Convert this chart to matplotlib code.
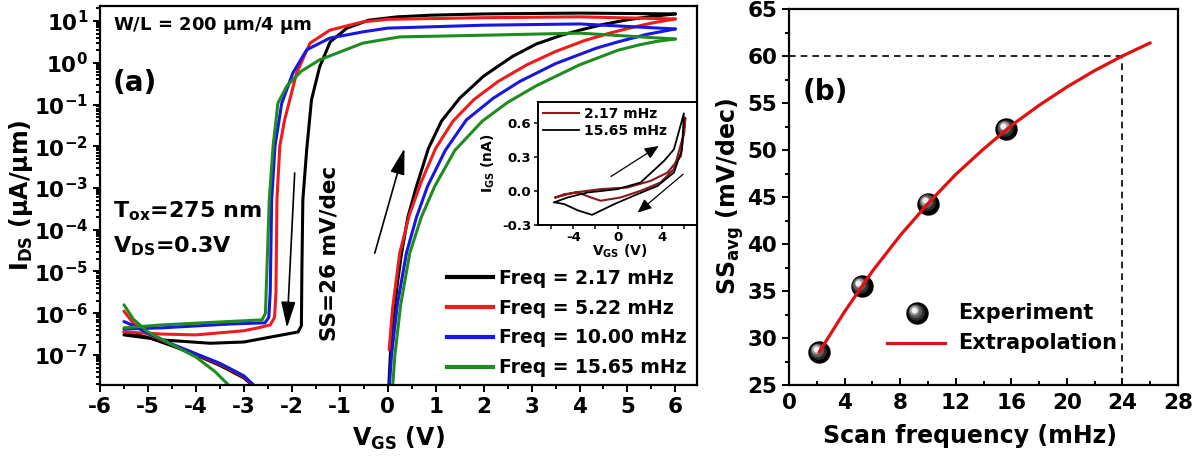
import numpy as np
import matplotlib
matplotlib.use('Agg')
import matplotlib.pyplot as plt
from matplotlib.ticker import (LogLocator, FixedLocator, MultipleLocator,
                               FuncFormatter, NullFormatter)
from matplotlib.transforms import offset_copy
from matplotlib.lines import Line2D

plt.rcParams['font.family'] = ['DejaVu Sans']
plt.rcParams['font.weight'] = 'bold'
plt.rcParams['axes.labelweight'] = 'bold'
plt.rcParams['mathtext.fontset'] = 'dejavusans'
plt.rcParams['mathtext.default'] = 'bf'
plt.rcParams['axes.linewidth'] = 1.6

# ---------------- data: panel (a) ----------------
freq_labels = ['Freq = 2.17 mHz', 'Freq = 5.22 mHz', 'Freq = 10.00 mHz', 'Freq = 15.65 mHz']
colors = ['#000000', '#ee1c1c', '#1717e0', '#1e8c1e']

# forward sweep, low (leakage) part  (VGS, log10 IDS)
fwd_low_v_black = [-5.5, -5.3, -5.0, -4.5, -4.0, -3.5, -3.0, -2.75]
fwd_low_i_black = [-6.45, -6.50, -6.58, -6.78, -7.00, -7.25, -7.55, -7.80]
fwd_low_v_red = [-5.5, -5.3, -5.0, -4.5, -4.0, -3.5, -3.0, -2.75]
fwd_low_i_red = [-5.95, -6.25, -6.50, -6.75, -6.98, -7.22, -7.52, -7.80]
fwd_low_v_blue = [-5.5, -5.3, -5.0, -4.5, -4.0, -3.5, -3.0, -2.72]
fwd_low_i_blue = [-6.20, -6.30, -6.48, -6.74, -6.97, -7.20, -7.50, -7.80]
fwd_low_v_green = [-5.5, -5.3, -5.0, -4.5, -4.0, -3.6, -3.25]
fwd_low_i_green = [-5.80, -6.15, -6.45, -6.75, -7.05, -7.40, -7.80]

# forward sweep, turn-on part
fwd_on_v_black = [0.02, 0.06, 0.12, 0.20, 0.29, 0.42, 0.60, 0.85, 1.12, 1.50, 2.00, 2.60, 3.10,
                  3.60, 4.00, 4.50, 5.00, 5.50, 6.00]
fwd_on_i_black = [-7.80, -6.90, -6.16, -5.30, -4.56, -3.70, -2.96, -2.05, -1.40, -0.85, -0.32,
                  0.15, 0.45, 0.65, 0.78, 0.92, 1.03, 1.11, 1.17]
fwd_on_v_red = [0.03, 0.10, 0.25, 0.45, 0.70, 1.00, 1.36, 1.80, 2.30, 2.90, 3.50, 4.10, 4.60,
                5.00, 5.50, 6.00]
fwd_on_i_red = [-6.88, -5.90, -4.56, -3.65, -2.85, -2.05, -1.40, -0.88, -0.45, -0.05, 0.27,
                0.53, 0.70, 0.82, 0.95, 1.05]
fwd_on_v_blue = [0.03, 0.08, 0.20, 0.39, 0.60, 0.83, 1.20, 1.64, 2.20, 2.75, 3.50, 4.35, 4.80,
                 5.40, 6.00]
fwd_on_i_blue = [-7.80, -7.00, -5.80, -4.56, -3.70, -2.96, -2.10, -1.37, -0.85, -0.45, -0.02,
                 0.35, 0.50, 0.68, 0.81]
fwd_on_v_green = [0.10, 0.15, 0.27, 0.46, 0.70, 0.98, 1.40, 1.97, 2.50, 3.10, 4.00, 4.80, 5.25,
                  5.60, 6.00]
fwd_on_i_green = [-7.80, -7.00, -5.80, -4.56, -3.70, -2.96, -2.10, -1.40, -0.95, -0.55, -0.05,
                  0.30, 0.43, 0.51, 0.57]

# backward sweep (6 V -> -5.5 V)
bwd_v_black = [6.0, 5.0, 4.0, 2.0, 0.9, 0.2, -0.4, -0.85, -1.2, -1.42, -1.59, -1.69, -1.77, -1.79, -1.80, -1.87, -2.2, -3.0, -3.7, -4.7, -5.5]
bwd_i_black = [1.17, 1.18, 1.19, 1.17, 1.14, 1.10, 1.02, 0.83, 0.50, -0.10, -0.89, -2.09, -3.29, -5.00, -6.30, -6.45, -6.52, -6.69, -6.72, -6.64, -6.52]
bwd_v_red = [6.0, 4.0, 2.0, 0.0, -0.52, -1.21, -1.62, -1.90, -2.15, -2.25, -2.31, -2.33, -2.36, -2.45, -2.70, -3.0, -4.0, -4.7, -5.5]
bwd_i_red = [1.05, 1.10, 1.08, 1.04, 0.98, 0.78, 0.47, -0.25, -1.37, -1.99, -3.29, -5.50, -6.10, -6.28, -6.35, -6.42, -6.52, -6.50, -6.45]
bwd_v_blue = [6.0, 4.0, 2.0, 0.0, -0.52, -1.21, -1.69, -1.98, -2.21, -2.35, -2.42, -2.45, -2.48, -2.56, -3.3, -4.7, -5.5]
bwd_i_blue = [0.81, 0.93, 0.90, 0.83, 0.74, 0.59, 0.31, -0.25, -0.97, -1.99, -3.29, -5.50, -6.10, -6.23, -6.26, -6.35, -6.38]
bwd_v_green = [6.0, 5.7, 4.0, 2.0, 0.25, -0.52, -1.42, -1.80, -2.10, -2.29, -2.39, -2.47, -2.52, -2.55, -2.62, -3.33, -4.7, -5.5]
bwd_i_green = [0.57, 0.59, 0.71, 0.66, 0.62, 0.47, 0.07, -0.20, -0.55, -0.97, -1.99, -3.29, -5.00, -6.00, -6.16, -6.20, -6.28, -6.35]

# ---------------- data: inset ----------------
inset_labels = ['2.17 mHz', '15.65 mHz']
inset_colors = ['#8b1a1a', '#000000']
ig_v_slow = [-5.6, -3.9, -1.53, 0.87, 2.97, 4.5, 5.7, 6.1, 6.0, 5.07, 3.87, 2.07, 0.27, -1.53, -2.4, -3.6, -4.8, -5.6]
ig_i_slow = [-0.056, -0.012, 0.018, 0.032, 0.091, 0.165, 0.31, 0.65, 0.52, 0.195, 0.077, 0.003, -0.056, -0.085, -0.056, -0.012, -0.027, -0.056]
ig_v_fast = [-5.74, -4.5, -2.7, 0.0, 2.07, 4.2, 5.07, 5.97, 5.8, 5.07, 3.6, 1.47, -0.3, -2.3, -3.6, -4.8, -5.6]
ig_i_fast = [-0.10, -0.056, -0.012, 0.018, 0.077, 0.27, 0.37, 0.69, 0.37, 0.165, 0.047, -0.04, -0.115, -0.21, -0.17, -0.115, -0.10]

# ---------------- data: panel (b) ----------------
scan_freq = [2.17, 5.22, 10.00, 15.65]
ss_avg = [28.5, 35.5, 44.3, 52.2]
fit_freq = [2.17, 4, 6, 8, 10, 12, 14, 16, 18, 20, 22, 24, 26]
fit_ss = [28.5, 32.8, 37.1, 40.9, 44.3, 47.4, 50.1, 52.6, 54.75, 56.7, 58.45, 60.0, 61.4]
target_ss = 60
target_freq = 24

# ================= figure =================
W, H = 1203, 458
fig = plt.figure(figsize=(W / 100, H / 100), dpi=100)

ax1 = fig.add_axes([100 / W, (H - 385) / H, 597 / W, 379 / H])
ax2 = fig.add_axes([789 / W, (H - 385) / H, 389 / W, 376 / H])
ins = fig.add_axes([537.7 / W, (H - 225) / H, 159.3 / W, 123 / H])

lw = 2.2
series = [
    (fwd_low_v_black, fwd_low_i_black, fwd_on_v_black, fwd_on_i_black, bwd_v_black, bwd_i_black),
    (fwd_low_v_red, fwd_low_i_red, fwd_on_v_red, fwd_on_i_red, bwd_v_red, bwd_i_red),
    (fwd_low_v_blue, fwd_low_i_blue, fwd_on_v_blue, fwd_on_i_blue, bwd_v_blue, bwd_i_blue),
    (fwd_low_v_green, fwd_low_i_green, fwd_on_v_green, fwd_on_i_green, bwd_v_green, bwd_i_green),
]
for (v1, i1, v2, i2, v3, i3), c in zip(series, colors):
    for v, i in ((v1, i1), (v2, i2), (v3, i3)):
        ax1.plot(v, 10 ** np.asarray(i), color=c, lw=lw, solid_joinstyle='round',
                 solid_capstyle='round')

ax1.set_yscale('log')
ax1.set_xlim(-6, 6.45)
ax1.set_ylim(10 ** -7.72, 10 ** 1.36)
ax1.xaxis.set_major_locator(MultipleLocator(1))
ax1.xaxis.set_minor_locator(MultipleLocator(0.5))
ax1.xaxis.set_major_formatter(FuncFormatter(lambda v, p: '%d' % round(v)))
ax1.yaxis.set_major_locator(LogLocator(base=10, numticks=20))
ax1.yaxis.set_minor_locator(LogLocator(base=10, subs=np.arange(2, 10), numticks=20))
ax1.yaxis.set_minor_formatter(NullFormatter())
ax1.yaxis.set_major_formatter(FuncFormatter(lambda v, p: r'$10^{%d}$' % round(np.log10(v))))
ax1.tick_params(which='both', direction='out', top=False, right=False, labelsize=15.5, width=1.4)
ax1.tick_params(which='major', length=5)
ax1.tick_params(which='minor', length=3)
ax1.set_xlabel(r'V$_{GS}$ (V)', fontsize=17)
ax1.set_ylabel(r'I$_{DS}$ ($\mathbf{\mu}$A/$\mathbf{\mu}$m)', fontsize=17)
ax1.xaxis.set_label_coords(0.5, -0.105)
ax1.yaxis.set_label_coords(-0.109, 0.5)

ax1.text(-5.73, 10 ** 0.9, r'W/L = 200 $\mathbf{\mu}$m/4 $\mathbf{\mu}$m', fontsize=13,
         ha='left', va='center')
ax1.text(-5.73, 10 ** -0.49, '(a)', fontsize=20, ha='left', va='center')
ax1.text(-5.73, 10 ** -3.55, r'T$_{ox}$=275 nm', fontsize=16, ha='left', va='center')
ax1.text(-5.73, 10 ** -4.4, r'V$_{DS}$=0.3V', fontsize=16, ha='left', va='center')
ax1.text(-1.21, 10 ** -4.56, 'SS=26 mV/dec', fontsize=15.5, rotation=90,
         ha='center', va='center')

arrow_kw = dict(arrowstyle='-|>,head_length=0.8,head_width=0.22', color='k', lw=1.2,
                mutation_scale=20, shrinkA=0, shrinkB=0)
ax1.annotate('', xy=(-2.1, 10 ** -6.35), xytext=(-1.94, 10 ** -2.64), arrowprops=arrow_kw)
ax1.annotate('', xy=(0.35, 10 ** -2.05), xytext=(-0.27, 10 ** -4.56), arrowprops=arrow_kw)

handles = [Line2D([], [], color=c, lw=3) for c in colors]
ax1.legend(handles, freq_labels, loc='center left', bbox_to_anchor=(447 / W, (H - 323) / H),
           bbox_transform=fig.transFigure, frameon=False, fontsize=13.5,
           handlelength=2.45, handletextpad=0.32, labelspacing=0.58,
           borderpad=0, borderaxespad=0)

# ---------------- inset ----------------
ins.plot(ig_v_slow, ig_i_slow, color=inset_colors[0], lw=1.5, label=inset_labels[0])
ins.plot(ig_v_fast, ig_i_fast, color=inset_colors[1], lw=1.3, label=inset_labels[1])
ins.set_xlim(-7.2, 7.15)
ins.set_ylim(-0.3, 0.79)
ins.xaxis.set_major_locator(FixedLocator([-4, 0, 4]))
ins.xaxis.set_minor_locator(FixedLocator([-6, -2, 2, 6]))
ins.xaxis.set_major_formatter(FuncFormatter(lambda v, p: '%d' % round(v)))
ins.yaxis.set_major_locator(FixedLocator([-0.3, 0.0, 0.3, 0.6]))
ins.yaxis.set_major_formatter(FuncFormatter(lambda v, p: '%.1f' % v))
ins.tick_params(which='both', direction='out', top=False, right=False, labelsize=9.5,
                length=3, width=1.1, pad=1.5)
for s in ins.spines.values():
    s.set_linewidth(1.4)
ins.set_ylabel(r'I$_{GS}$ (nA)', fontsize=10)
ins.set_xlabel(r'V$_{GS}$ (V)', fontsize=10)
ins.yaxis.set_label_coords(-0.255, 0.5)
ins.xaxis.set_label_coords(0.517, -0.14)
ins.legend(loc='upper left', bbox_to_anchor=(0.0, 1.0), frameon=False, fontsize=10,
           handlelength=2.6, handletextpad=0.4, labelspacing=0.25, borderpad=0.35,
           borderaxespad=0)
in_arrow = dict(arrowstyle='-|>,head_length=0.7,head_width=0.3', color='k', lw=0.9,
                mutation_scale=12, shrinkA=0, shrinkB=0)
ins.annotate('', xy=(3.7, 0.40), xytext=(-0.6, 0.13), arrowprops=in_arrow)
ins.annotate('', xy=(1.8, -0.19), xytext=(5.9, 0.15), arrowprops=in_arrow)

# ---------------- panel (b) ----------------
ax2.set_xlim(0, 28)
ax2.set_ylim(25, 65)
dash = (0, (4, 3))
ax2.plot([0, target_freq], [target_ss, target_ss], color='k', lw=1.2, linestyle=dash)
ax2.plot([target_freq, target_freq], [25, target_ss], color='k', lw=1.2, linestyle=dash)
ax2.plot(fit_freq, fit_ss, color='#e01010', lw=2.3, zorder=7, solid_capstyle='round')


def sphere(ax, x, y, s, transform):
    ax.scatter(x, y, s=s, c='black', transform=transform, zorder=5, linewidths=0,
               clip_on=False)
    for frac, col, off in [(0.55, '#2e2e2e', 1.0), (0.34, '#5e5e5e', 1.6),
                           (0.18, '#a0a0a0', 2.1), (0.07, '#f2f2f2', 2.4)]:
        tr = offset_copy(transform, fig=fig, x=-off, y=off, units='points')
        ax.scatter(x, y, s=s * frac, c=col, transform=tr, zorder=6, linewidths=0,
                   clip_on=False)


sphere(ax2, scan_freq, ss_avg, 260, ax2.transData)

ax2.xaxis.set_major_locator(MultipleLocator(4))
ax2.xaxis.set_minor_locator(MultipleLocator(2))
ax2.yaxis.set_major_locator(MultipleLocator(5))
ax2.yaxis.set_minor_locator(MultipleLocator(2.5))
ax2.tick_params(axis='x', which='both', direction='in', top=False, labelsize=15.5, width=1.4,
                pad=6)
ax2.tick_params(axis='y', which='both', direction='out', right=False, labelsize=15.5, width=1.4)
ax2.tick_params(which='major', length=5)
ax2.tick_params(which='minor', length=3)
ax2.set_xlabel('Scan frequency (mHz)', fontsize=17)
ax2.set_ylabel(r'SS$_{avg}$ (mV/dec)', fontsize=17)
ax2.xaxis.set_label_coords(0.465, -0.105)
ax2.yaxis.set_label_coords(-0.11, 0.5)
ax2.text(1.0, 56.2, '(b)', fontsize=20, ha='left', va='center')

# manual legend for panel (b)
sphere(ax2, [0.329], [0.1915], 260, ax2.transAxes)
ax2.plot([0.252, 0.401], [0.1117, 0.1117], color='#e01010', lw=2.3, transform=ax2.transAxes)
ax2.text(0.434, 0.1915, 'Experiment', fontsize=15, ha='left', va='center',
         transform=ax2.transAxes)
ax2.text(0.434, 0.1117, 'Extrapolation', fontsize=15, ha='left', va='center',
         transform=ax2.transAxes)

fig.savefig('out.png', dpi=100)
